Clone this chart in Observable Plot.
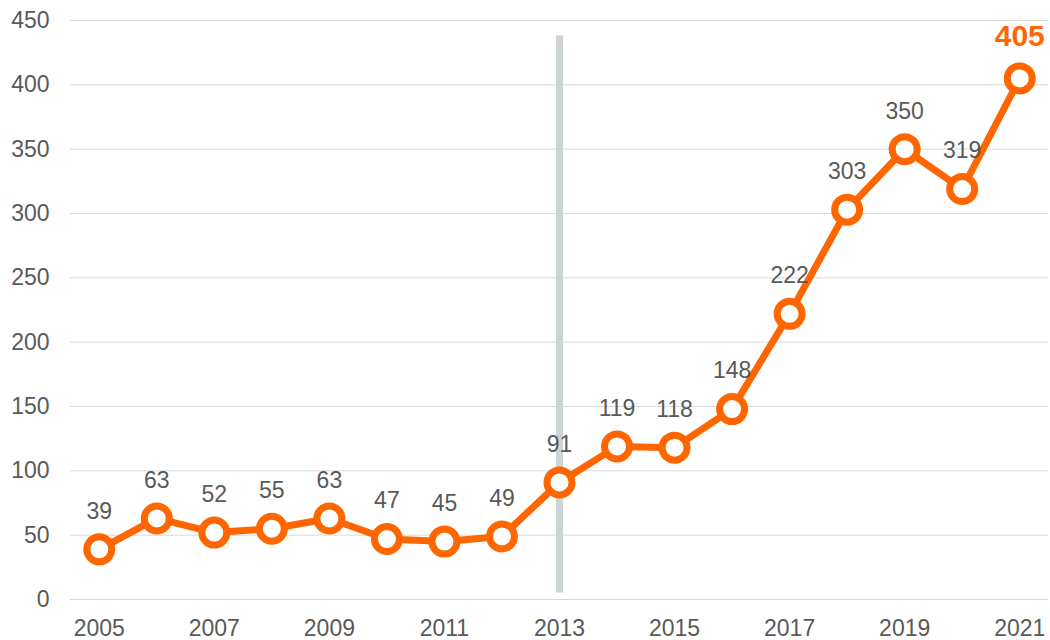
<!DOCTYPE html>
<html>
<head>
<meta charset="utf-8">
<script src="https://cdn.jsdelivr.net/npm/d3@7"></script>
<script src="https://cdn.jsdelivr.net/npm/@observablehq/plot@0.6"></script>
<style>
  html, body { margin: 0; padding: 0; background: #fff; }
  #chart { width: 1050px; height: 640px; }
</style>
</head>
<body>
<div id="chart"></div>
<script>
const years = [2005,2006,2007,2008,2009,2010,2011,2012,2013,2014,2015,2016,2017,2018,2019,2020,2021];
const values = [39,63,52,55,63,47,45,49,91,119,118,148,222,303,350,319,405];
const xTickLabels = [2005,2007,2009,2011,2013,2015,2017,2019,2021];
const yTicks = [0,50,100,150,200,250,300,350,400,450];
const markerYear = [2013];
const markerSpan = [5, 438];

const data = years.map((y, i) => ({year: y, value: values[i]}));
const last = data.slice(-1);
const rest = data.slice(0, -1);
const orange = "#ff6600";

const chart = Plot.plot({
  width: 1050,
  height: 640,
  marginLeft: 70,
  marginRight: 2,
  marginTop: 20,
  marginBottom: 41,
  style: {fontFamily: "'Liberation Sans', Arial, sans-serif", fontSize: "23px", color: "#595959", background: "#fff"},
  x: {type: "point", domain: years, padding: 0.5, round: false, label: null},
  y: {domain: [0, 450], label: null},
  marks: [
    Plot.gridY(yTicks, {stroke: "#d9d9d9", strokeOpacity: 1, strokeWidth: 1}),
    Plot.axisY(yTicks, {tickSize: 0, tickPadding: 21, fontSize: 23, fill: "#595959", label: null}),
    Plot.axisX(xTickLabels, {tickSize: 0, tickPadding: 20, fontSize: 23, fill: "#595959", label: null, tickFormat: d => String(d)}),
    Plot.ruleX(markerYear, {x: d => d, y1: markerSpan[0], y2: markerSpan[1], stroke: "#ccd4d6", strokeWidth: 7}),
    Plot.line(data, {x: "year", y: "value", stroke: orange, strokeWidth: 7, strokeLinejoin: "round"}),
    Plot.dot(data, {x: "year", y: "value", r: 12.5, fill: "#fff", stroke: orange, strokeWidth: 7}),
    Plot.text(rest, {x: "year", y: "value", text: d => String(d.value), dy: -38, fontSize: 23, fill: "#595959"}),
    Plot.text(last, {x: "year", y: "value", text: d => String(d.value), dy: -42, fontSize: 30, fontWeight: "bold", fill: orange})
  ]
});
document.getElementById("chart").appendChild(chart);
</script>
</body>
</html>
